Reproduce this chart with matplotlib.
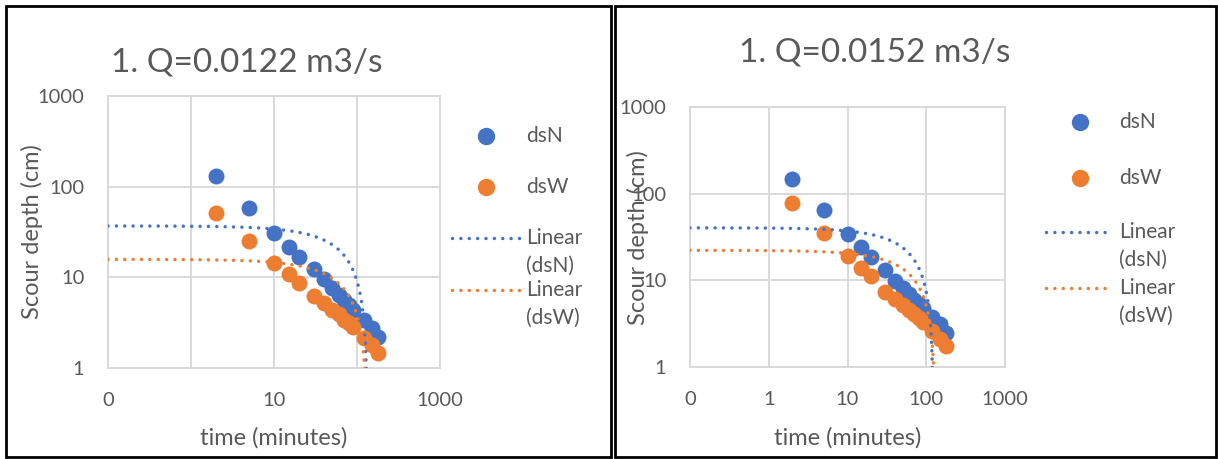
import numpy as np
import matplotlib
matplotlib.use("Agg")
import matplotlib.pyplot as plt
from matplotlib.lines import Line2D
from matplotlib.patches import Rectangle

plt.rcParams["font.family"] = ["Lato", "DejaVu Sans"]

# data
time_min = [2, 5, 10, 15, 20, 30, 40, 50, 60, 70, 80, 90, 120, 150, 180]

dsN_q0122 = [131, 58.6, 31, 21.8, 16.9, 12.3, 9.5, 7.7, 6.4, 5.6, 5.0, 4.4, 3.4, 2.75, 2.2]
dsW_q0122 = [51, 25.2, 14.5, 10.8, 8.7, 6.3, 5.2, 4.4, 3.9, 3.4, 3.1, 2.85, 2.15, 1.8, 1.47]

dsN_q0152 = [146, 64, 34.4, 24, 18.8, 13.1, 9.9, 8.2, 6.9, 6.0, 5.3, 4.8, 3.8, 3.1, 2.5]
dsW_q0152 = [78, 34.8, 19.1, 13.7, 11.1, 7.3, 6.1, 5.25, 4.6, 4.1, 3.7, 3.3, 2.6, 2.1, 1.75]

# Excel "Linear" trendlines (intercept, slope)
trend_dsN_q0122 = (36.9, -0.278)
trend_dsW_q0122 = (15.8, -0.120)
trend_dsN_q0152 = (40.4, -0.330)
trend_dsW_q0152 = (22.2, -0.171)

titles = ["1. Q=0.0122 m3/s", "1. Q=0.0152 m3/s"]
x_ticks = [0.1, 1, 10, 100, 1000]
x_ticklabels_q0122 = ["0", "", "10", "", "1000"]
x_ticklabels_q0152 = ["0", "1", "10", "100", "1000"]
y_ticks = [1, 10, 100, 1000]
y_ticklabels = ["1", "10", "100", "1000"]

BLUE = "#4472C4"
ORANGE = "#ED7D31"
GRID = "#D9D9D9"
TXT = "#595959"

W, H = 1218, 459


def fx(px):
    return px / W


def fy(py):
    return 1 - py / H


fig = plt.figure(figsize=(W / 100, H / 100), dpi=100)
fig.patch.set_facecolor("white")

# table cell borders
fig.add_artist(Rectangle((fx(6), fy(457)), fx(611) - fx(6), (457 - 6) / H,
                         transform=fig.transFigure, fill=False, ec="black", lw=2))
fig.add_artist(Rectangle((fx(615), fy(457)), fx(1216) - fx(615), (457 - 6) / H,
                         transform=fig.transFigure, fill=False, ec="black", lw=2))

trend_style = dict(lw=2.5, linestyle=(0, (0.01, 2.4)), dash_capstyle="round")

charts = [
    dict(rect=(108, 96, 440, 368), dsN=dsN_q0122, dsW=dsW_q0122,
         tN=trend_dsN_q0122, tW=trend_dsW_q0122, title=titles[0],
         title_xy=(247, 62), xt=x_ticklabels_q0122, ylab_x=32, ylab_y=232, xlab_y=438,
         leg_marker_x=486, leg_line=(452, 520), leg_text_x=526,
         leg_y=(136, 187, 238, 290)),
    dict(rect=(690, 107, 1005, 367), dsN=dsN_q0152, dsW=dsW_q0152,
         tN=trend_dsN_q0152, tW=trend_dsW_q0152, title=titles[1],
         title_xy=(875, 52), xt=x_ticklabels_q0152, ylab_x=638, ylab_y=238, xlab_y=438,
         leg_marker_x=1080, leg_line=(1046, 1112), leg_text_x=1119,
         leg_y=(122, 178, 232, 288)),
]

for c in charts:
    x0, y0, x1, y1 = c["rect"]
    ax = fig.add_axes([fx(x0), fy(y1), fx(x1) - fx(x0), (y1 - y0) / H])
    ax.set_xscale("log")
    ax.set_yscale("log")

    ax.scatter(time_min, c["dsN"], s=11.5 ** 2, color=BLUE, lw=0, zorder=3)
    ax.scatter(time_min, c["dsW"], s=11.5 ** 2, color=ORANGE, lw=0, zorder=3)

    # linear trend y = a + b*x shown on the log axes
    xx = np.logspace(-1, np.log10(max(time_min)), 600)
    for (a, b), col in [(c["tN"], BLUE), (c["tW"], ORANGE)]:
        yy = a + b * xx
        yy[yy <= 0] = np.nan
        ax.plot(xx, yy, color=col, zorder=4, **trend_style)

    ax.set_xlim(0.1, 1000)
    ax.set_ylim(1, 1000)
    ax.set_xticks(x_ticks)
    ax.set_xticklabels(c["xt"])
    ax.set_yticks(y_ticks)
    ax.set_yticklabels(y_ticklabels)
    ax.minorticks_off()
    ax.tick_params(length=0, pad=17, labelsize=14.5, labelcolor=TXT)
    ax.grid(True, color=GRID, lw=1.4)
    ax.set_axisbelow(True)
    for sp in ax.spines.values():
        sp.set_color(GRID)
        sp.set_linewidth(1.4)

    fig.text(fx(c["title_xy"][0]), fy(c["title_xy"][1]), c["title"], fontsize=24,
             color=TXT, ha="center", va="center")
    fig.text(fx(c["ylab_x"]), fy(c["ylab_y"]), "Scour depth (cm)", fontsize=17,
             color=TXT, rotation=90, ha="center", va="center")
    fig.text(fx((x0 + x1) / 2), fy(c["xlab_y"]), "time (minutes)", fontsize=17,
             color=TXT, ha="center", va="center")

    # legend, laid out like Excel's
    ly = c["leg_y"]
    for yy_, col, lab in [(ly[0], BLUE, "dsN"), (ly[1], ORANGE, "dsW")]:
        fig.add_artist(Line2D([fx(c["leg_marker_x"])], [fy(yy_)], transform=fig.transFigure,
                              marker="o", markersize=11.5, color=col, lw=0))
        fig.text(fx(c["leg_text_x"]), fy(yy_), lab, fontsize=15, color=TXT,
                 ha="left", va="center")
    for yy_, col, lab in [(ly[2], BLUE, "dsN"), (ly[3], ORANGE, "dsW")]:
        fig.add_artist(Line2D([fx(c["leg_line"][0]), fx(c["leg_line"][1])], [fy(yy_), fy(yy_)],
                              transform=fig.transFigure, color=col, **trend_style))
        fig.text(fx(c["leg_text_x"]), fy(yy_), "Linear", fontsize=15, color=TXT,
                 ha="left", va="center")
        fig.text(fx(c["leg_text_x"]), fy(yy_ + 28), "(" + lab + ")", fontsize=15, color=TXT,
                 ha="left", va="center")

fig.savefig("out.png", dpi=100, facecolor="white")
